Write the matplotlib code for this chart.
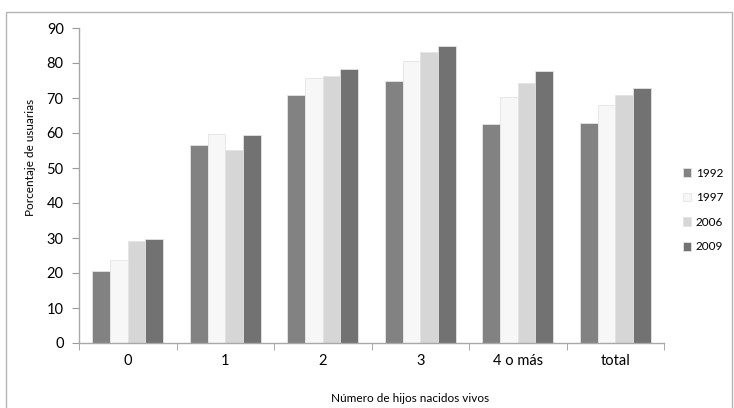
import numpy as np
import matplotlib
matplotlib.use('Agg')
from matplotlib import pyplot as plt
from matplotlib.patches import Rectangle

categories = ['0', '1', '2', '3', '4 o más', 'total']
years = ['1992', '1997', '2006', '2009']
v1992 = [20.5, 56.6, 71.0, 75.0, 62.5, 62.8]
v1997 = [23.8, 59.6, 75.6, 80.5, 70.4, 67.9]
v2006 = [29.2, 55.1, 76.2, 83.2, 74.4, 71.0]
v2009 = [29.8, 59.3, 78.2, 85.0, 77.8, 72.8]
colors = ['#828282', '#f7f7f7', '#d6d6d6', '#727272']

plt.rcParams['font.family'] = ['Lato', 'DejaVu Sans']

fig = plt.figure(figsize=(7.34, 4.08), dpi=100)
ax = fig.add_axes([79/734, 1-343/408, (664-79)/734, (343-28)/408])

x = np.arange(len(categories))
w = 0.182
series = [v1992, v1997, v2006, v2009]
for k, (vals, c, lab) in enumerate(zip(series, colors, years)):
    ax.bar(x + (k-1.5)*w, vals, width=w, color=c, edgecolor='#e4e4e4',
           linewidth=0.6, label=lab)

ax.set_xlim(-0.5, len(categories)-0.5)
ax.set_ylim(0, 90)
ax.set_yticks(range(0, 91, 10))
ax.set_xticks(x)
ax.set_xticklabels(categories)
ax.set_xticks(np.arange(-0.5, len(categories), 1), minor=True)
ax.tick_params(axis='x', which='major', length=0, labelsize=10.5, pad=8)
ax.tick_params(axis='x', which='minor', length=5, color='#9a9a9a', direction='out')
ax.tick_params(axis='y', length=5, color='#9a9a9a', labelsize=10.5, pad=6)
for s in ['top', 'right']:
    ax.spines[s].set_visible(False)
for s in ['left', 'bottom']:
    ax.spines[s].set_color('#a8a8a8')
    ax.spines[s].set_linewidth(1.0)

fig.text(30/734, 1-157/408, 'Porcentaje de usuarias', rotation=90,
         ha='center', va='center', fontsize=8.5)
fig.text(410/734, 1-398/408, 'Número de hijos nacidos vivos',
         ha='center', va='center', fontsize=8.5)

leg = fig.legend(loc='center left', bbox_to_anchor=(672/734, 1-210/408),
                 frameon=False, fontsize=8.5, handlelength=0.75, handleheight=0.75,
                 labelspacing=1.15, handletextpad=0.35)

fig.patches.append(Rectangle((6/734, -0.05), (732-6)/734, 1.05-12/408,
                             transform=fig.transFigure, fill=False,
                             edgecolor='#b4b4b4', linewidth=1.0))

fig.savefig('out.png', dpi=100)
